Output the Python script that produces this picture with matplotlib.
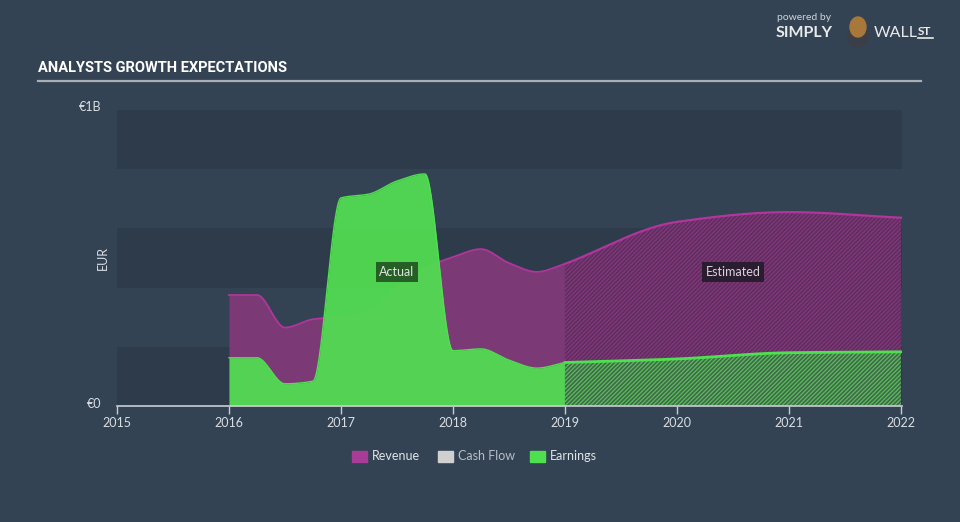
import numpy as np
import matplotlib
matplotlib.use("Agg")
import matplotlib.pyplot as plt
from matplotlib.patches import Rectangle, Ellipse

# ---- data (EUR billions) ----
actual_years = [2016.0, 2016.25, 2016.5, 2016.75, 2017.0, 2017.25, 2017.5, 2017.75,
                2018.0, 2018.25, 2018.5, 2018.75, 2019.0]
actual_revenue = [0.375, 0.375, 0.265, 0.293, 0.302, 0.32, 0.40, 0.466,
                  0.503, 0.53, 0.483, 0.453, 0.48]
actual_earnings = [0.163, 0.163, 0.075, 0.084, 0.703, 0.716, 0.76, 0.784,
                   0.187, 0.193, 0.155, 0.128, 0.147]
est_years = [2019.0, 2020.0, 2021.0, 2022.0]
est_revenue = [0.48, 0.622, 0.655, 0.636]
est_earnings = [0.147, 0.159, 0.18, 0.183]
x_ticks = [2015, 2016, 2017, 2018, 2019, 2020, 2021, 2022]
legend_labels = ["Revenue", "Cash Flow", "Earnings"]


def pchip(x, y, n=400):
    x = np.asarray(x, float); y = np.asarray(y, float)
    h = np.diff(x); d = np.diff(y) / h
    m = np.zeros_like(y)
    for k in range(1, len(x) - 1):
        if d[k - 1] * d[k] > 0:
            w1 = 2 * h[k] + h[k - 1]; w2 = h[k] + 2 * h[k - 1]
            m[k] = (w1 + w2) / (w1 / d[k - 1] + w2 / d[k])
    m[0] = d[0]; m[-1] = d[-1]
    xs = np.linspace(x[0], x[-1], n)
    idx = np.clip(np.searchsorted(x, xs) - 1, 0, len(x) - 2)
    t = (xs - x[idx]) / h[idx]
    h00 = 2 * t**3 - 3 * t**2 + 1; h10 = t**3 - 2 * t**2 + t
    h01 = -2 * t**3 + 3 * t**2; h11 = t**3 - t**2
    ys = h00 * y[idx] + h10 * h[idx] * m[idx] + h01 * y[idx + 1] + h11 * h[idx] * m[idx + 1]
    return xs, ys


BG = "#344353"
DARK_BAND = "#2e3b4b"
fig = plt.figure(figsize=(9.6, 5.22), dpi=100)
fig.patch.set_facecolor(BG)

ax = fig.add_axes([117 / 960, 1 - 406 / 522, (902 - 117) / 960, (406 - 110) / 522])
ax.set_facecolor(BG)
ax.set_xlim(2015, 2022.01)
ax.set_ylim(0, 1.0)

for i in range(5):
    if i % 2 == 0:
        ax.axhspan(0.2 * i, 0.2 * (i + 1), color=DARK_BAND, lw=0, zorder=0)

# actual
xa, ra = pchip(actual_years, actual_revenue)
_, ea = pchip(actual_years, actual_earnings)
ax.fill_between(xa, 0, ra, color="#7b3a75", lw=0, zorder=2)
ax.plot(xa, ra, color="#b0369c", lw=1.3, zorder=3)
ax.fill_between(xa, 0, ea, color="#52d852", alpha=0.97, lw=0, zorder=4)
ax.plot(xa, ea, color="#4ee04e", lw=1.0, zorder=5)

# estimated
plt.rcParams["hatch.linewidth"] = 0.9
xe, re_ = pchip(est_years, est_revenue)
_, ee = pchip(est_years, est_earnings)
ax.fill_between(xe, 0, re_, facecolor="#5e2e5e", edgecolor="#84387c", hatch="////////", lw=0, zorder=2)
ax.plot(xe, re_, color="#b0369c", lw=1.6, zorder=3)
ax.fill_between(xe, 0, ee, facecolor="#3f6a4a", edgecolor="#5cbc5c", hatch="////////", lw=0, zorder=4)
ax.plot(xe, ee, color="#4ee04e", lw=2.0, zorder=5)

# axes styling
for s in ["top", "right", "left"]:
    ax.spines[s].set_visible(False)
ax.spines["bottom"].set_color("#c8ced6")
ax.spines["bottom"].set_linewidth(1.2)
ax.spines["bottom"].set_zorder(6)
ax.set_xticks(x_ticks)
ax.set_xticklabels([str(t) for t in x_ticks])
ax.tick_params(axis="x", colors="#c8ced6", length=6, width=1, labelsize=9, pad=2,
               labelcolor="#d8dde3")
for lab in ax.get_xticklabels():
    lab.set_family("Lato")
ax.set_yticks([])

# annotations
ax.text(2017.5, 0.453, "Actual", ha="center", va="center", fontsize=9, family="Lato",
        color="#dfe6df", zorder=7,
        bbox=dict(boxstyle="square,pad=0.3", fc="#265f26", ec="none"))
ax.text(2020.5, 0.453, "Estimated", ha="center", va="center", fontsize=9, family="Lato",
        color="#d8d3dc", zorder=7,
        bbox=dict(boxstyle="square,pad=0.3", fc="#2a1d30", ec="none"))

# y labels
fig.text(101 / 960, 1 - 107 / 522, "€1B", ha="right", va="center", fontsize=9, family="Lato", color="#d8dde3")
fig.text(101 / 960, 1 - 404 / 522, "€0", ha="right", va="center", fontsize=9, family="Lato", color="#d8dde3")
fig.text(103 / 960, 1 - 258 / 522, "EUR", ha="center", va="center", rotation=90, fontsize=9,
         family="Lato", color="#d8dde3")

# title
fig.text(38 / 960, 1 - 68 / 522, "ANALYSTS GROWTH EXPECTATIONS", ha="left", va="center",
         fontsize=10.5, fontweight="bold", family="Roboto", color="#ffffff")
fig.add_artist(plt.Line2D([38 / 960, 921 / 960], [1 - 81 / 522, 1 - 81 / 522],
                          color="#a7aeb6", lw=1.6))

# logo text
fig.text(777 / 960, 1 - 18 / 522, "powered by", ha="left", va="center", fontsize=7.5,
         family="Lato", color="#d0d4d8")
fig.text(776 / 960, 1 - 33 / 522, "SIMPLY", ha="left", va="center", fontsize=11.5,
         fontweight="bold", family="Lato", color="#e8eaec")
fig.text(874 / 960, 1 - 33 / 522, "WALL", ha="left", va="center", fontsize=11.5,
         family="Lato", color="#e8eaec")
fig.text(918 / 960, 1 - 31 / 522, "ST", ha="left", va="center", fontsize=8.5,
         fontweight="bold", family="Lato", color="#e8eaec")
fig.add_artist(plt.Line2D([918 / 960, 933 / 960], [1 - 38 / 522, 1 - 38 / 522],
                          color="#e8eaec", lw=1.2))
fig.add_artist(Ellipse((858 / 960, 1 - 36 / 522), 22 / 960, 22 / 522, transform=fig.transFigure,
                       color="#3a3f47", zorder=3))
fig.add_artist(Ellipse((858 / 960, 1 - 27 / 522), 16 / 960, 20 / 522, transform=fig.transFigure,
                       color="#a8773a", zorder=4))

# legend
leg_colors = ["#a93c97", "#d0d0d0", "#4ee04e"]
leg_x = [352, 438, 530]
for lx, c, lab in zip(leg_x, leg_colors, legend_labels):
    fig.add_artist(Rectangle((lx / 960, 1 - 462 / 522), 15 / 960, 11 / 522,
                             transform=fig.transFigure, color=c))
    fig.text((lx + 20) / 960, 1 - 456.5 / 522, lab, ha="left", va="center", fontsize=9,
             family="Lato", color="#e0e4e8" if lab != "Cash Flow" else "#b8bec6")

fig.savefig("out.png", dpi=100, facecolor=fig.get_facecolor())
